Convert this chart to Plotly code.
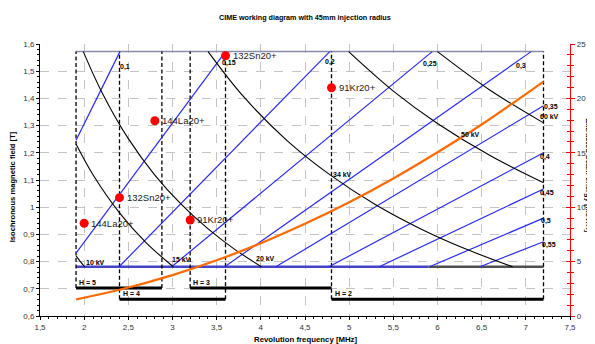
import plotly.graph_objects as go

# ---------------- data ----------------
# iso-Q/A lines (blue): label, start (f, B), end (f, B)
qa_labels = ["0,1", "0,15", "0,2", "0,25", "0,3", "0,35", "0,4", "0,45", "0,5", "0,55"]
qa_f0 = [1.908, 1.908, 2.395, 2.99, 3.59, 4.17, 4.77, 5.34, 5.91, 6.48]
qa_b0 = [1.246, 0.831, 0.781, 0.781, 0.781, 0.781, 0.781, 0.781, 0.781, 0.781]
qa_f1 = [2.405, 3.60, 4.78, 5.94, 7.06, 7.2, 7.2, 7.2, 7.2, 7.2]
qa_b1 = [1.572, 1.572, 1.572, 1.572, 1.572, 1.373, 1.200, 1.067, 0.960, 0.873]
qa_lab_f = [2.463, 3.64, 4.784, 5.917, 6.947, 7.287, 7.219, 7.24, 7.23, 7.26]
qa_lab_b = [1.515, 1.530, 1.534, 1.526, 1.519, 1.368, 1.185, 1.052, 0.949, 0.861]

# dee-voltage curves (black)
kv_labels = ["10 kV", "15 kV", "20 kV", "34 kV", "50 kV", "60 kV"]
kv_f = [
    [1.908, 1.955, 2.005],
    [1.908, 2.1, 2.4, 2.7, 3.009],
    [1.99, 2.2, 2.5, 2.8, 3.1, 3.4, 3.7, 4.008],
    [3.403, 3.8, 4.3, 4.8, 5.3, 5.8, 6.3, 6.85],
    [4.994, 5.5, 6.0, 6.6, 7.2],
    [6.0, 6.6, 7.2],
]
kv_b = [
    [0.821, 0.801, 0.781],
    [1.232, 1.119, 0.979, 0.870, 0.781],
    [1.572, 1.423, 1.252, 1.118, 1.010, 0.921, 0.846, 0.781],
    [1.572, 1.408, 1.244, 1.115, 1.009, 0.922, 0.849, 0.781],
    [1.572, 1.427, 1.308, 1.189, 1.090],
    [1.572, 1.429, 1.310],
]
kv_lab_f = [2.123, 3.097, 4.048, 4.93, 6.37, 7.264]
kv_lab_b = [0.7985, 0.806, 0.813, 1.122, 1.269, 1.332]

# field limits
b_max = 1.572
b_min = 0.781
f_min = 1.908
f_max = 7.2
f_grey = 5.9

# harmonic ranges
h_labels = ["H = 5", "H = 4", "H = 3", "H = 2"]
h_f0 = [1.908, 2.40, 3.20, 4.80]
h_f1 = [2.88, 3.60, 4.80, 7.20]
h_b = [0.703, 0.662, 0.703, 0.662]

# vertical dashed limits
dash_f = [1.908, 2.40, 2.88, 3.20, 3.60, 4.80, 7.20]
dash_bottom = [0.703, 0.662, 0.703, 0.703, 0.662, 0.662, 0.662]

# extracted energy (orange, right axis)
en_f = [1.91, 2.4, 3.0, 3.5, 4.0, 4.5, 5.0, 5.5, 6.0, 6.5, 7.2]
en_e = [1.53, 2.41, 3.76, 5.12, 6.69, 8.47, 10.45, 12.64, 15.05, 17.6, 21.55]

# ion working points
ion_labels = ["144La20+", "132Sn20+", "91Kr20+", "144La20+", "132Sn20+", "91Kr20+"]
ion_f = [2.0, 2.4, 3.2, 2.8, 3.6, 4.8]
ion_b = [0.941, 1.035, 0.953, 1.318, 1.557, 1.439]

x_ticks = [1.5, 2, 2.5, 3, 3.5, 4, 4.5, 5, 5.5, 6, 6.5, 7, 7.5]
x_ticktext = ["1,5", "2", "2,5", "3", "3,5", "4", "4,5", "5", "5,5", "6", "6,5", "7", "7,5"]
y_ticks = [0.6, 0.7, 0.8, 0.9, 1.0, 1.1, 1.2, 1.3, 1.4, 1.5, 1.6]
y_ticktext = ["0,6", "0,7", "0,8", "0,9", "1", "1,1", "1,2", "1,3", "1,4", "1,5", "1,6"]
y2_ticks = [0, 5, 10, 15, 20, 25]

# ---------------- figure ----------------
FONT = "Liberation Sans, Arial, sans-serif"
BLUE = "#2a2af2"
fig = go.Figure()

def line(xs, ys, color, width, dash=None, shape="linear", yaxis="y"):
    fig.add_trace(go.Scatter(x=xs, y=ys, mode="lines", yaxis=yaxis,
                             line=dict(color=color, width=width, dash=dash, shape=shape),
                             hoverinfo="skip", showlegend=False))

# top and bottom field limits
line([f_min, f_max], [b_max, b_max], "#8a8aae", 1.5)
line([f_min, f_grey], [b_min, b_min], "#4444c4", 2.4)
line([f_grey, f_max], [b_min, b_min], "#505050", 2.4)

# vertical dashed lines
for f, b0 in zip(dash_f, dash_bottom):
    line([f, f], [b0, b_max], "black", 1.3, dash="4px,2.5px")

# harmonic bars
for f0, f1, b in zip(h_f0, h_f1, h_b):
    line([f0, f1], [b, b], "black", 3)

# blue Q/A lines
for f0, b0, f1, b1 in zip(qa_f0, qa_b0, qa_f1, qa_b1):
    line([f0, f1], [b0, b1], BLUE, 1.2)

# black voltage curves
for fs, bs in zip(kv_f, kv_b):
    line(fs, bs, "black", 1.1, shape="spline")

# orange energy curve on right axis
line(en_f, en_e, "#ff6a00", 2.2, shape="spline", yaxis="y2")

# ion points
fig.add_trace(go.Scatter(x=ion_f, y=ion_b, mode="markers",
                         marker=dict(color="#ff0000", size=9),
                         hoverinfo="skip", showlegend=False))

ann = []
for t, f, b in zip(ion_labels, ion_f, ion_b):
    ann.append(dict(x=f, y=b, text=t, xanchor="left", yanchor="middle", xshift=5,
                    showarrow=False, font=dict(size=9.5, color="#222222", family=FONT)))
for t, f, b in zip(qa_labels, qa_lab_f, qa_lab_b):
    ann.append(dict(x=f, y=b, text="<b>%s</b>" % t, xanchor="center", yanchor="middle",
                    showarrow=False, font=dict(size=7, color="black", family=FONT)))
for t, f, b in zip(kv_labels, kv_lab_f, kv_lab_b):
    ann.append(dict(x=f, y=b, text="<b>%s</b>" % t, xanchor="center", yanchor="middle",
                    showarrow=False, font=dict(size=7, color="black", family=FONT)))
for t, f, b in zip(h_labels, h_f0, h_b):
    ann.append(dict(x=f, y=b, text="<b>%s</b>" % t, xanchor="left", yanchor="bottom",
                    xshift=1, yshift=0, showarrow=False,
                    font=dict(size=7, color="black", family=FONT)))

# titles
ann.append(dict(x=0.5, y=1.099, xref="paper", yref="paper", showarrow=False,
                xanchor="center", yanchor="middle",
                text="<b>CIME working diagram with 45mm injection radius</b>",
                font=dict(size=7.2, color="black", family=FONT)))
ann.append(dict(x=0.5, y=-0.088, xref="paper", yref="paper", showarrow=False,
                xanchor="center", yanchor="middle",
                text="<b>Revolution frequency [MHz]</b>",
                font=dict(size=7.8, color="black", family=FONT)))
ann.append(dict(x=-0.0525, y=0.474, xref="paper", yref="paper", showarrow=False,
                xanchor="center", yanchor="middle",
                textangle=-90, text="<b>Isochronous magnetic field [T]</b>",
                font=dict(size=7.6, color="black", family=FONT)))
ann.append(dict(x=1.0355, y=0.518, xref="paper", yref="paper", showarrow=False,
                xanchor="center", yanchor="middle",
                textangle=90, text="<b>Extracted beam energy [MeV/A]</b>",
                font=dict(size=7.6, color="black", family=FONT)))

tickfont = dict(size=8, color="#333333", family=FONT)
# page body has an 8px margin: shrink the figure so the plot lands where the reference has it
fig.update_layout(
    width=587, height=336,
    margin=dict(l=32, r=25, t=36, b=28),
    paper_bgcolor="white", plot_bgcolor="white",
    annotations=ann,
    xaxis=dict(range=[1.5, 7.5], tickvals=x_ticks, ticktext=x_ticktext,
               showline=True, linecolor="black", linewidth=1,
               ticks="outside", ticklen=3, tickcolor="black",
               minor=dict(dtick=0.1, ticks="outside", ticklen=2, tickcolor="black", showgrid=False),
               showgrid=True, gridcolor="#c4c4c4", griddash="dash", gridwidth=1,
               zeroline=False, tickfont=tickfont, fixedrange=True, automargin=False),
    yaxis=dict(range=[0.6, 1.6], tickvals=y_ticks, ticktext=y_ticktext,
               showline=True, linecolor="black", linewidth=1,
               ticks="outside", ticklen=3, tickcolor="black",
               minor=dict(dtick=0.02, ticks="outside", ticklen=2, tickcolor="black", showgrid=False),
               showgrid=True, gridcolor="#c4c4c4", griddash="dash", gridwidth=1,
               zeroline=False, tickfont=tickfont, fixedrange=True, automargin=False),
    yaxis2=dict(range=[0, 25], tickvals=y2_ticks, overlaying="y", side="right",
                anchor="x", showline=True, linecolor="#ff0000", linewidth=1.2,
                ticks="outside", ticklen=4, tickcolor="#ff0000", tickwidth=1.2,
                minor=dict(dtick=1, ticks="outside", ticklen=3, tickcolor="#ff0000", showgrid=False),
                showgrid=False, zeroline=False, tickfont=tickfont, fixedrange=True,
                automargin=False),
    yaxis3=dict(range=[0, 25], tickvals=y2_ticks, overlaying="y", side="right",
                anchor="x", showline=False, showticklabels=False,
                ticks="inside", ticklen=4, tickcolor="#ff0000", tickwidth=1.2,
                minor=dict(dtick=1, ticks="inside", ticklen=3, tickcolor="#ff0000", showgrid=False),
                showgrid=False, zeroline=False, fixedrange=True, automargin=False),
)
# dummy trace to show yaxis3
fig.add_trace(go.Scatter(x=[None], y=[None], yaxis="y3", showlegend=False, hoverinfo="skip"))

fig.write_html("out.html")
